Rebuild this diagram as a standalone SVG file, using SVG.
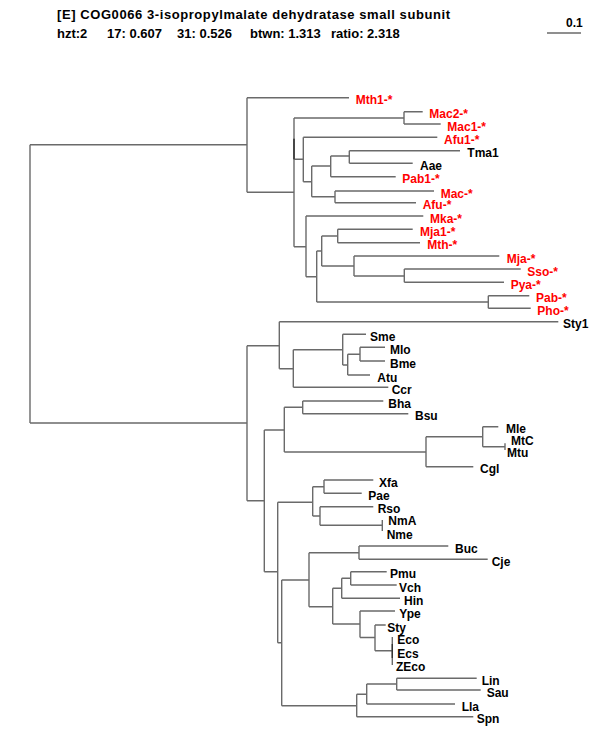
<svg xmlns="http://www.w3.org/2000/svg" width="600" height="750" viewBox="0 0 600 750">
<style>
.e{stroke:#6a6a6a;stroke-width:1.4;fill:none}
.d{stroke:#333;stroke-width:1.4;fill:none}
text{font-family:"Liberation Sans",Arial,Helvetica,sans-serif;font-weight:bold;font-size:12px}
.r{fill:#ff0000}
.k{fill:#000}
.h{font-size:13px}
</style>
<rect width="600" height="750" fill="#fff"/>
<g id="header">
<text class="k h" x="57" y="19" textLength="393">[E] COG0066 3-isopropylmalate dehydratase small subunit</text>
<text class="k h" y="38"><tspan x="57">hzt:2</tspan><tspan x="107">17: 0.607</tspan><tspan x="177">31: 0.526</tspan><tspan x="250">btwn: 1.313</tspan><tspan x="331">ratio: 2.318</tspan></text>
</g>
<g id="scale">
<text class="k" x="566" y="27" font-size="11">0.1</text>
<path class="e" d="M547,33 H581"/>
</g>
<g id="connectors">
<path class="e" d="M30,144.7 V423 M30,144.7 H247 M30,423 H247"/>
<path class="e" d="M247,97.7 V192.3 M247,97.7 H349 M247,192.3 H294"/>
<path class="e" d="M294,138.7 V246.7 M294,246.7 H306"/>
<path class="e" d="M294,118 V159.3 M294,118 H404 M294,159.3 H303.3"/>
<path class="d" d="M294,138.7 V159.3"/>
<path class="e" d="M404,111.7 V124 M404,111.7 H422.7 M404,124 H440.7"/>
<path class="e" d="M303.3,137.3 V181.7 M303.3,137.3 H437.3 M303.3,181.7 H311.7"/>
<path class="e" d="M311.7,166 V196.7 M311.7,166 H330.7 M311.7,196.7 H335"/>
<path class="e" d="M330.7,156 V176.7 M330.7,156 H349.3 M330.7,176.7 H395.7"/>
<path class="e" d="M349.3,150.7 V163.3 M349.3,150.7 H460 M349.3,163.3 H412.7"/>
<path class="e" d="M335,191 V202.7 M335,191 H434 M335,202.7 H416"/>
<path class="e" d="M306,216 V276.7 M306,216 H423.3 M306,276.7 H316.7"/>
<path class="e" d="M316.7,251 V302 M316.7,251 H321.7 M316.7,302 H488.3"/>
<path class="e" d="M321.7,236 V266 M321.7,236 H337.7 M321.7,266 H354"/>
<path class="e" d="M337.7,229.3 V242.7 M337.7,229.3 H412.7 M337.7,242.7 H420"/>
<path class="e" d="M354,256 V276 M354,256 H499.3 M354,276 H404.3"/>
<path class="e" d="M404.3,269 V282.3 M404.3,269 H520.7 M404.3,282.3 H504"/>
<path class="e" d="M488.3,295.7 V308.3 M488.3,295.7 H529.3 M488.3,308.3 H530.7"/>
<path class="e" d="M247,345.7 V500.7 M247,345.7 H279.3 M247,500.7 H264.3"/>
<path class="e" d="M279.3,321.7 V368.7 M279.3,321.7 H558.3 M279.3,368.7 H293.3"/>
<path class="e" d="M293.3,349.7 V387.3 M293.3,349.7 H342.7 M293.3,387.3 H388.3"/>
<path class="e" d="M342.7,334.3 V365 M342.7,334.3 H366 M342.7,365 H347.7"/>
<path class="e" d="M347.7,354.3 V375 M347.7,354.3 H360 M347.7,375 H370"/>
<path class="e" d="M360,347.3 V361 M360,347.3 H385 M360,361 H385"/>
<path class="e" d="M264.3,430 V571.7 M264.3,430 H284.3 M264.3,571.7 H277.7"/>
<path class="e" d="M284.3,407.3 V452 M284.3,407.3 H302.7 M284.3,452 H426"/>
<path class="e" d="M302.7,401 V413.7 M302.7,401 H383.3 M302.7,413.7 H408.3"/>
<path class="e" d="M426,436.7 V466.7 M426,436.7 H482.7 M426,466.7 H473.3"/>
<path class="e" d="M482.7,426.7 V446.7 M482.7,426.7 H498.3 M482.7,446.7 H505"/>
<path class="e" d="M505,443.3 V450"/>
<path class="e" d="M277.7,502.3 V642.7 M277.7,502.3 H312.7 M277.7,642.7 H281.7"/>
<path class="e" d="M312.7,486.7 V516 M312.7,486.7 H324 M312.7,516 H320"/>
<path class="e" d="M324,480 V493.3 M324,480 H373.3 M324,493.3 H361.7"/>
<path class="e" d="M320,506.7 V525.3 M320,506.7 H373.3 M320,525.3 H382.3"/>
<path class="e" d="M382.3,520 V531"/>
<path class="e" d="M281.7,580 V705.7 M281.7,580 H309 M281.7,705.7 H356.7"/>
<path class="e" d="M309,552.7 V606.7 M309,552.7 H359 M309,606.7 H332.7"/>
<path class="e" d="M359,546 V559.3 M359,546 H448.3 M359,559.3 H487.7"/>
<path class="e" d="M332.7,588.3 V624 M332.7,588.3 H341.7 M332.7,624 H360"/>
<path class="e" d="M341.7,578.3 V598.3 M341.7,578.3 H350.7 M341.7,598.3 H400"/>
<path class="e" d="M350.7,571.7 V585 M350.7,571.7 H386.7 M350.7,585 H396.7"/>
<path class="e" d="M360,611 V637.5 M360,611 H395 M360,637.5 H375"/>
<path class="e" d="M375,625 V650.7 M375,625 H385.7 M375,650.7 H392.3"/>
<path class="e" d="M392.3,637 V665"/>
<path class="d" d="M392.3,644 V658"/>
<path class="e" d="M356.7,694.3 V716.7 M356.7,694.3 H366.7 M356.7,716.7 H473.3"/>
<path class="e" d="M366.7,684 V704 M366.7,684 H396.7 M366.7,704 H455"/>
<path class="e" d="M396.7,678.3 V690 M396.7,678.3 H476.7 M396.7,690 H480.7"/>
</g>
<g id="Mth1"><text class="r" x="355.7" y="104.3">Mth1-*</text></g>
<g id="Mac2"><text class="r" x="429.3" y="118.3">Mac2-*</text></g>
<g id="Mac1"><text class="r" x="447.3" y="130.6">Mac1-*</text></g>
<g id="Afu1"><text class="r" x="444" y="143.9">Afu1-*</text></g>
<g id="Tma1"><text class="k" x="467.3" y="157.3">Tma1</text></g>
<g id="Aae"><text class="k" x="420" y="169.9">Aae</text></g>
<g id="Pab1"><text class="r" x="402.3" y="183.3">Pab1-*</text></g>
<g id="Mac"><text class="r" x="440.7" y="197.6">Mac-*</text></g>
<g id="Afu"><text class="r" x="422.7" y="209.3">Afu-*</text></g>
<g id="Mka"><text class="r" x="430" y="222.6">Mka-*</text></g>
<g id="Mja1"><text class="r" x="420" y="235.9">Mja1-*</text></g>
<g id="Mth"><text class="r" x="427.3" y="249.3">Mth-*</text></g>
<g id="Mja"><text class="r" x="506.7" y="262.6">Mja-*</text></g>
<g id="Sso"><text class="r" x="527.3" y="275.6">Sso-*</text></g>
<g id="Pya"><text class="r" x="510.7" y="288.9">Pya-*</text></g>
<g id="Pab"><text class="r" x="536" y="302.3">Pab-*</text></g>
<g id="Pho"><text class="r" x="537.3" y="314.9">Pho-*</text></g>
<g id="Sty1"><text class="k" x="563" y="328.3">Sty1</text></g>
<g id="Sme"><text class="k" x="370" y="340.9">Sme</text></g>
<g id="Mlo"><text class="k" x="390" y="353.9">Mlo</text></g>
<g id="Bme"><text class="k" x="390" y="367.6">Bme</text></g>
<g id="Atu"><text class="k" x="377.3" y="381.6">Atu</text></g>
<g id="Ccr"><text class="k" x="391.7" y="393.9">Ccr</text></g>
<g id="Bha"><text class="k" x="388.3" y="407.6">Bha</text></g>
<g id="Bsu"><text class="k" x="415" y="420.3">Bsu</text></g>
<g id="Mle"><text class="k" x="506" y="433.3">Mle</text></g>
<g id="MtC"><text class="k" x="511" y="445">MtC</text></g>
<g id="Mtu"><text class="k" x="507" y="456.7">Mtu</text></g>
<g id="Cgl"><text class="k" x="480" y="473.3">Cgl</text></g>
<g id="Xfa"><text class="k" x="379" y="486.6">Xfa</text></g>
<g id="Pae"><text class="k" x="368.3" y="499.9">Pae</text></g>
<g id="Rso"><text class="k" x="377.7" y="513.3">Rso</text></g>
<g id="NmA"><text class="k" x="388.3" y="524.5">NmA</text></g>
<g id="Nme"><text class="k" x="386.7" y="538.5">Nme</text></g>
<g id="Buc"><text class="k" x="455" y="552.6">Buc</text></g>
<g id="Cje"><text class="k" x="491.7" y="565.9">Cje</text></g>
<g id="Pmu"><text class="k" x="390" y="578.3">Pmu</text></g>
<g id="Vch"><text class="k" x="399" y="591.6">Vch</text></g>
<g id="Hin"><text class="k" x="404" y="604.9">Hin</text></g>
<g id="Ype"><text class="k" x="399.3" y="617.6">Ype</text></g>
<g id="Sty"><text class="k" x="387.3" y="631.6">Sty</text></g>
<g id="Eco"><text class="k" x="397.3" y="643.5">Eco</text></g>
<g id="Ecs"><text class="k" x="397.3" y="657.5">Ecs</text></g>
<g id="ZEco"><text class="k" x="396" y="671">ZEco</text></g>
<g id="Lin"><text class="k" x="481.7" y="684.9">Lin</text></g>
<g id="Sau"><text class="k" x="486.7" y="696.6">Sau</text></g>
<g id="Lla"><text class="k" x="461.7" y="710.6">Lla</text></g>
<g id="Spn"><text class="k" x="476.7" y="723.3">Spn</text></g>
</svg>
